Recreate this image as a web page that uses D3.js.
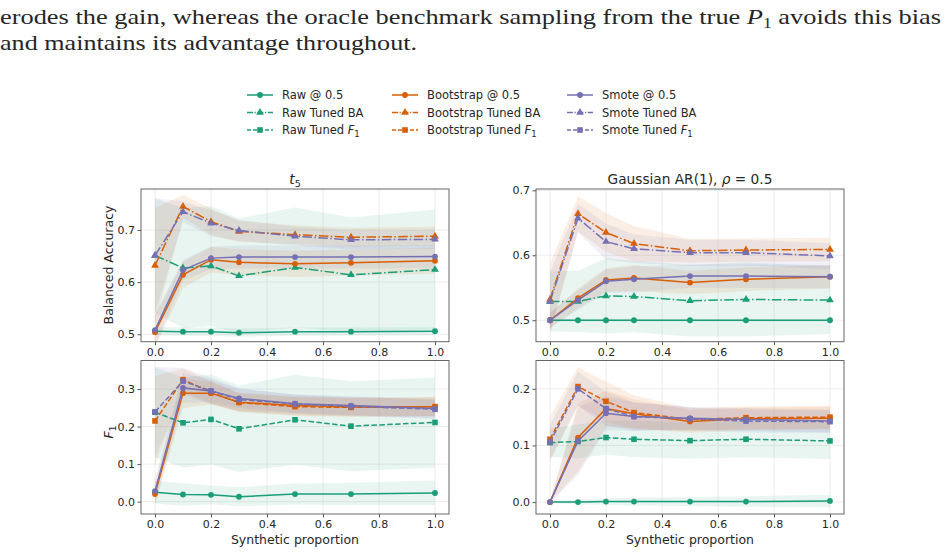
<!DOCTYPE html>
<html>
<head>
<meta charset="utf-8">
<script src="https://cdn.jsdelivr.net/npm/d3@7"></script>
<style>
body { margin: 0; background: #fff; }
svg text { font-family: "DejaVu Sans", sans-serif; fill: #262626; }
</style>
</head>
<body>
<svg id="chart" width="948" height="552"></svg>
<script>
// x positions (synthetic proportion)
const xs = [0, 0.1, 0.2, 0.3, 0.5, 0.7, 1.0];
const xTicks = [0, 0.2, 0.4, 0.6, 0.8, 1.0];
const methods = ["Raw", "Bootstrap", "Smote"];
const colors = ["#1b9e77", "#d95f02", "#7570b3"];

// t5, balanced accuracy (rows: Raw, Bootstrap, Smote)
const t5BaAt05 = [
    [0.506, 0.505, 0.505, 0.503, 0.505, 0.505, 0.506],
    [0.504, 0.614, 0.643, 0.638, 0.635, 0.637, 0.641],
    [0.508, 0.623, 0.646, 0.648, 0.648, 0.648, 0.649]
];
const t5BaTuned = [
    [0.651, 0.627, 0.631, 0.612, 0.628, 0.614, 0.624],
    [0.632, 0.745, 0.716, 0.697, 0.691, 0.686, 0.688],
    [0.651, 0.735, 0.713, 0.699, 0.688, 0.681, 0.682]
];
const t5BaAt05Sd = [
    [0.008, 0.008, 0.008, 0.008, 0.008, 0.008, 0.008],
    [0.030, 0.025, 0.025, 0.025, 0.025, 0.025, 0.025],
    [0.030, 0.020, 0.022, 0.022, 0.022, 0.022, 0.022]
];
const t5BaTunedSd = [
    [0.110, 0.115, 0.115, 0.110, 0.115, 0.110, 0.115],
    [0.110, 0.022, 0.025, 0.020, 0.018, 0.018, 0.018],
    [0.110, 0.020, 0.025, 0.020, 0.018, 0.018, 0.018]
];

// Gaussian AR(1), balanced accuracy
const arBaAt05 = [
    [0.500, 0.500, 0.500, 0.500, 0.500, 0.500, 0.500],
    [0.500, 0.534, 0.562, 0.565, 0.558, 0.563, 0.567],
    [0.500, 0.531, 0.560, 0.563, 0.568, 0.568, 0.567]
];
const arBaTuned = [
    [0.529, 0.529, 0.5375, 0.5365, 0.530, 0.532, 0.531],
    [0.532, 0.664, 0.635, 0.618, 0.607, 0.608, 0.609],
    [0.529, 0.657, 0.621, 0.610, 0.604, 0.604, 0.599]
];
const arBaAt05Sd = [
    [0.002, 0.002, 0.002, 0.002, 0.002, 0.002, 0.002],
    [0.012, 0.015, 0.018, 0.020, 0.018, 0.018, 0.018],
    [0.012, 0.015, 0.018, 0.020, 0.018, 0.018, 0.018]
];
const arBaTunedSd = [
    [0.046, 0.047, 0.058, 0.055, 0.055, 0.057, 0.052],
    [0.055, 0.027, 0.030, 0.027, 0.018, 0.018, 0.018],
    [0.045, 0.022, 0.028, 0.022, 0.020, 0.020, 0.020]
];

// t5, F1
const t5F1At05 = [
    [0.025, 0.019, 0.018, 0.013, 0.020, 0.020, 0.023],
    [0.020, 0.289, 0.289, 0.265, 0.256, 0.252, 0.253],
    [0.028, 0.303, 0.295, 0.275, 0.261, 0.256, 0.248]
];
const t5F1Tuned = [
    [0.238, 0.210, 0.219, 0.194, 0.218, 0.201, 0.211],
    [0.215, 0.325, 0.291, 0.264, 0.253, 0.251, 0.253],
    [0.239, 0.321, 0.295, 0.272, 0.260, 0.254, 0.246]
];
const t5F1At05Sd = [
    [0.030, 0.030, 0.025, 0.025, 0.028, 0.030, 0.033],
    [0.030, 0.040, 0.030, 0.025, 0.025, 0.025, 0.025],
    [0.030, 0.040, 0.030, 0.025, 0.025, 0.025, 0.025]
];
const t5F1TunedSd = [
    [0.120, 0.120, 0.120, 0.115, 0.120, 0.120, 0.120],
    [0.120, 0.030, 0.030, 0.025, 0.025, 0.025, 0.025],
    [0.120, 0.035, 0.035, 0.030, 0.025, 0.025, 0.025]
];

// Gaussian AR(1), F1
const arF1At05 = [
    [0.000, 0.000, 0.001, 0.001, 0.001, 0.001, 0.002],
    [0.000, 0.114, 0.165, 0.156, 0.1425, 0.147, 0.148],
    [0.000, 0.108, 0.157, 0.151, 0.148, 0.146, 0.143]
];
const arF1Tuned = [
    [0.105, 0.107, 0.114, 0.111, 0.1085, 0.111, 0.108],
    [0.111, 0.204, 0.178, 0.158, 0.146, 0.149, 0.150],
    [0.106, 0.200, 0.165, 0.151, 0.147, 0.143, 0.142]
];
const arF1At05Sd = [
    [0.002, 0.004, 0.006, 0.007, 0.008, 0.009, 0.011],
    [0.001, 0.060, 0.032, 0.025, 0.020, 0.020, 0.020],
    [0.001, 0.060, 0.030, 0.025, 0.020, 0.020, 0.020]
];
const arF1TunedSd = [
    [0.025, 0.030, 0.030, 0.032, 0.032, 0.032, 0.032],
    [0.040, 0.034, 0.035, 0.030, 0.020, 0.020, 0.020],
    [0.030, 0.030, 0.030, 0.025, 0.020, 0.020, 0.020]
];

const svg = d3.select("#chart");

// paragraph text above the figure
const serif = "'Liberation Serif', serif";
const l1 = svg.append("text")
    .attr("x", 0).attr("y", 24)
    .attr("font-size", 21)
    .style("font-family", serif)
    .attr("textLength", 941).attr("lengthAdjust", "spacingAndGlyphs");
l1.append("tspan").text("erodes the gain, whereas the oracle benchmark sampling from the true ");
l1.append("tspan").attr("font-style", "italic").text("P");
l1.append("tspan").attr("font-size", 14).attr("dy", 4).text("1");
l1.append("tspan").attr("dy", -4).text(" avoids this bias");
svg.append("text")
    .attr("x", 0).attr("y", 50)
    .attr("font-size", 21)
    .style("font-family", serif)
    .attr("textLength", 417).attr("lengthAdjust", "spacingAndGlyphs")
    .text("and maintains its advantage throughout.");

// line styles
const dashTuned = { BA: "9.6,2.4,1.5,2.4", F1: "5.5,2.4" };

function marker(sel, kind, color) {
    if (kind === "circle") {
        sel.append("circle").attr("r", 2.9).attr("fill", color);
    } else if (kind === "triangle") {
        sel.append("path").attr("d", d3.symbol(d3.symbolTriangle, 26)()).attr("fill", color);
    } else {
        sel.append("rect").attr("x", -2.8).attr("y", -2.8).attr("width", 5.6).attr("height", 5.6).attr("fill", color);
    }
}

const panels = [
    { x0: 141, x1: 449, y0: 189, y1: 341.7, dom: [0.4858, 0.7785], ticks: [0.5, 0.6, 0.7],
      at05: t5BaAt05, tuned: t5BaTuned, at05Sd: t5BaAt05Sd, tunedSd: t5BaTunedSd, kind: "BA", title: "t5" },
    { x0: 536, x1: 844, y0: 189, y1: 341.7, dom: [0.467, 0.702], ticks: [0.5, 0.6, 0.7],
      at05: arBaAt05, tuned: arBaTuned, at05Sd: arBaAt05Sd, tunedSd: arBaTunedSd, kind: "BA", title: "ar" },
    { x0: 141, x1: 449, y0: 360.5, y1: 514, dom: [-0.033, 0.376], ticks: [0, 0.1, 0.2, 0.3],
      at05: t5F1At05, tuned: t5F1Tuned, at05Sd: t5F1At05Sd, tunedSd: t5F1TunedSd, kind: "F1" },
    { x0: 536, x1: 844, y0: 360.5, y1: 514, dom: [-0.021, 0.25], ticks: [0, 0.1, 0.2],
      at05: arF1At05, tuned: arF1Tuned, at05Sd: arF1At05Sd, tunedSd: arF1TunedSd, kind: "F1" }
];

panels.forEach((p, pi) => {
    const x = d3.scaleLinear().domain([-0.05, 1.05]).range([p.x0, p.x1]);
    const y = d3.scaleLinear().domain(p.dom).range([p.y1, p.y0]);
    const g = svg.append("g");

    g.append("clipPath").attr("id", "clip" + pi)
        .append("rect").attr("x", p.x0).attr("y", p.y0)
        .attr("width", p.x1 - p.x0).attr("height", p.y1 - p.y0);

    // grid
    g.selectAll(".gx").data(xTicks).join("line")
        .attr("x1", d => x(d)).attr("x2", d => x(d))
        .attr("y1", p.y0).attr("y2", p.y1)
        .attr("stroke", "#e8e8e8").attr("stroke-width", 0.8);
    g.selectAll(".gy").data(p.ticks).join("line")
        .attr("x1", p.x0).attr("x2", p.x1)
        .attr("y1", d => y(d)).attr("y2", d => y(d))
        .attr("stroke", "#e8e8e8").attr("stroke-width", 0.8);

    const plot = g.append("g").attr("clip-path", `url(#clip${pi})`);

    const area = d3.area()
        .x((d, i) => x(xs[i]))
        .y0(d => y(d[0] - d[1]))
        .y1(d => y(d[0] + d[1]));
    const line = d3.line().x((d, i) => x(xs[i])).y(d => y(d));

    // bands
    methods.forEach((m, k) => {
        [[p.at05[k], p.at05Sd[k]], [p.tuned[k], p.tunedSd[k]]].forEach(([mean, sd]) => {
            plot.append("path")
                .datum(mean.map((v, i) => [v, sd[i]]))
                .attr("d", area)
                .attr("fill", colors[k]).attr("fill-opacity", 0.1);
        });
    });

    // lines + markers
    methods.forEach((m, k) => {
        const sets = [
            { vals: p.at05[k], dash: null, mk: "circle" },
            { vals: p.tuned[k], dash: dashTuned[p.kind], mk: p.kind === "BA" ? "triangle" : "square" }
        ];
        sets.forEach(s => {
            plot.append("path").datum(s.vals).attr("d", line)
                .attr("fill", "none").attr("stroke", colors[k]).attr("stroke-width", 1.5)
                .attr("stroke-dasharray", s.dash);
            s.vals.forEach((v, i) => {
                const mg = plot.append("g").attr("transform", `translate(${x(xs[i])},${y(v)})`);
                marker(mg, s.mk, colors[k]);
            });
        });
    });

    // axes
    const xa = g.append("g").attr("transform", `translate(0,${p.y1})`)
        .call(d3.axisBottom(x).tickValues(xTicks).tickFormat(d3.format(".1f")).tickSize(3.5).tickPadding(3));
    const ya = g.append("g").attr("transform", `translate(${p.x0},0)`)
        .call(d3.axisLeft(y).tickValues(p.ticks).tickFormat(d3.format(".1f")).tickSize(3.5).tickPadding(2.5));
    [xa, ya].forEach(a => {
        a.select(".domain").remove();
        a.selectAll(".tick line").attr("stroke", "#555");
        a.selectAll(".tick text").attr("font-size", 11).attr("fill", "#262626")
            .style("font-family", "'DejaVu Sans', sans-serif");
    });

    // frame
    g.append("rect").attr("x", p.x0).attr("y", p.y0)
        .attr("width", p.x1 - p.x0).attr("height", p.y1 - p.y0)
        .attr("fill", "none").attr("stroke", "#666").attr("stroke-width", 1);

    const cx = (p.x0 + p.x1) / 2;
    if (p.title === "t5") {
        const t = g.append("text").attr("x", cx).attr("y", p.y0 - 5).attr("text-anchor", "middle").attr("font-size", 13.7);
        t.append("tspan").attr("font-style", "italic").text("t");
        t.append("tspan").attr("font-size", 9.5).attr("dy", 3).text("5");
    } else if (p.title === "ar") {
        const t = g.append("text").attr("x", cx).attr("y", p.y0 - 5).attr("text-anchor", "middle").attr("font-size", 13.7);
        t.append("tspan").text("Gaussian AR(1), ");
        t.append("tspan").attr("font-style", "italic").text("ρ");
        t.append("tspan").text(" = 0.5");
    }
    if (pi >= 2) {
        g.append("text").attr("x", cx).attr("y", p.y1 + 30).attr("text-anchor", "middle")
            .attr("font-size", 12.5).text("Synthetic proportion");
    }
});

// y labels
svg.append("text").attr("transform", "translate(113,265) rotate(-90)")
    .attr("text-anchor", "middle").attr("font-size", 12.5).text("Balanced Accuracy");
const f1Label = svg.append("text").attr("transform", "translate(113,432) rotate(-90)")
    .attr("text-anchor", "middle").attr("font-size", 12.5);
f1Label.append("tspan").attr("font-style", "italic").text("F");
f1Label.append("tspan").attr("font-size", 9).attr("dy", 3).text("1");

// legend
const legendCols = [247, 392, 567];
const legendRows = [95, 112.5, 130];
const rowKinds = [
    { label: " @ 0.5", dash: null, mk: "circle" },
    { label: " Tuned BA", dash: "6,1.6,1.2,1.6", mk: "triangle" },
    { label: " Tuned ", sub: true, dash: "4,2", mk: "square" }
];
const legend = svg.append("g");
methods.forEach((m, k) => {
    rowKinds.forEach((r, j) => {
        const lg = legend.append("g").attr("transform", `translate(${legendCols[k]},${legendRows[j]})`);
        lg.append("line").attr("x1", 0).attr("x2", 26).attr("y1", 0).attr("y2", 0)
            .attr("stroke", colors[k]).attr("stroke-width", 1.5).attr("stroke-dasharray", r.dash);
        const mg = lg.append("g").attr("transform", "translate(13,0)");
        marker(mg, r.mk, colors[k]);
        const t = lg.append("text").attr("x", 35).attr("y", 4).attr("font-size", 11.5);
        t.append("tspan").text(m + r.label);
        if (r.sub) {
            t.append("tspan").attr("font-style", "italic").text("F");
            t.append("tspan").attr("font-size", 8.5).attr("dy", 2.5).text("1");
        }
    });
});
</script>
</body>
</html>
